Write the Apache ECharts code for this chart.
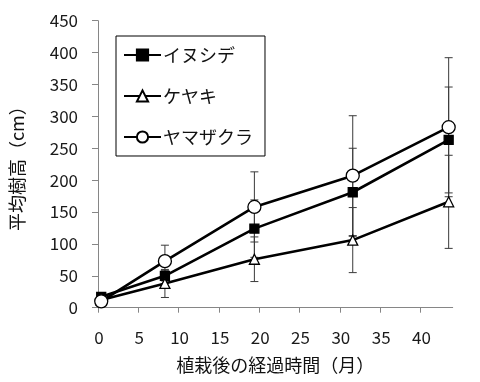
<!DOCTYPE html>
<html><head><meta charset="utf-8">
<script src="https://cdn.jsdelivr.net/npm/echarts@6/dist/echarts.min.js"></script>
<style>html,body{margin:0;padding:0;background:#fff}#c{width:480px;height:382px}</style>
</head><body><div id="c"></div>
<script>
const months = [0.4, 8.3, 19.4, 31.6, 43.5];
const seriesNames = ['イヌシデ', 'ケヤキ', 'ヤマザクラ'];
const inushide = [17, 50, 124, 181, 263];
const inushideErr = [3, 8, 45, 69, 83];
const keyaki = [12, 38, 76, 106, 166];
const keyakiErr = [3, 22, 35, 51, 73];
const yamazakura = [10, 73, 158, 207, 283];
const yamazakuraErr = [3, 25, 55, 94, 109];
const xTicks = [0, 5, 10, 15, 20, 25, 30, 35, 40];
const yTicks = [0, 50, 100, 150, 200, 250, 300, 350, 400, 450];

const FONT = '"Noto Sans CJK JP", "Noto Sans", sans-serif';
const pts = v => months.map((m, i) => [m, v[i]]);
const errs = (v, e) => months.map((m, i) => [m, v[i] - e[i], v[i] + e[i]]);

function errItem(params, api) {
  const x = api.value(0), lo = api.value(1), hi = api.value(2);
  const a = api.coord([x, lo]), b = api.coord([x, hi]);
  const w = 4, st = {stroke: '#3a3a3a', lineWidth: 1};
  return {type: 'group', children: [
    {type: 'line', shape: {x1: a[0], y1: a[1], x2: b[0], y2: b[1]}, style: st},
    {type: 'line', shape: {x1: a[0] - w, y1: a[1], x2: a[0] + w, y2: a[1]}, style: st},
    {type: 'line', shape: {x1: b[0] - w, y1: b[1], x2: b[0] + w, y2: b[1]}, style: st}
  ]};
}
function errSeries(v, e) {
  return {type: 'custom', renderItem: errItem, data: errs(v, e), encode: {x: 0, y: [1, 2]}, z: 1, silent: true};
}
function lineSeries(name, v, symbol, size, fill) {
  return {type: 'line', name: name, data: pts(v), symbol: symbol, symbolSize: size, z: 3,
    lineStyle: {color: '#000', width: 2.6},
    itemStyle: {color: fill, borderColor: '#000', borderWidth: 1.3},
    emphasis: {disabled: true}};
}

const chart = echarts.init(document.getElementById('c'));
chart.setOption({
  animation: false,
  backgroundColor: '#fff',
  grid: {left: 91.7, right: 27.3, top: 20.7, bottom: 74.3},
  legend: {
    data: seriesNames, orient: 'vertical', left: 116, top: 36,
    borderColor: '#000', borderWidth: 1, padding: [10, 12, 10, 7],
    itemWidth: 37, itemHeight: 14, itemGap: 23,
    textStyle: {fontFamily: FONT, fontSize: 18, color: '#111', padding: [0, 0, 0, -3]}
  },
  xAxis: {
    type: 'value', min: 0, max: 44,
    name: '植栽後の経過時間（月）', nameLocation: 'middle', nameGap: 48,
    nameTextStyle: {fontFamily: FONT, fontSize: 18, color: '#111'},
    axisLine: {show: true, lineStyle: {color: '#868686', width: 1}},
    axisTick: {show: true, length: 5, lineStyle: {color: '#868686'}, customValues: xTicks},
    axisLabel: {customValues: xTicks, fontFamily: FONT, fontSize: 17, color: '#1a1a1a', margin: 21, padding: [0, 0, 0, 2]},
    splitLine: {show: false}
  },
  yAxis: {
    type: 'value', min: 0, max: 450, interval: 50,
    name: '平均樹高（cm）', nameLocation: 'middle', nameGap: 72, nameRotate: 90,
    nameTextStyle: {fontFamily: FONT, fontSize: 18, color: '#111'},
    axisLine: {show: true, lineStyle: {color: '#868686', width: 1}},
    axisTick: {show: true, length: 6, lineStyle: {color: '#868686'}},
    axisLabel: {fontFamily: FONT, fontSize: 17, color: '#1a1a1a', margin: 20},
    splitLine: {show: false}
  },
  series: [
    errSeries(inushide, inushideErr),
    errSeries(keyaki, keyakiErr),
    errSeries(yamazakura, yamazakuraErr),
    lineSeries(seriesNames[0], inushide, 'rect', 9, '#000'),
    lineSeries(seriesNames[1], keyaki, 'triangle', 10, '#fff'),
    lineSeries(seriesNames[2], yamazakura, 'circle', 13, '#fff')
  ]
});
</script></body></html>
